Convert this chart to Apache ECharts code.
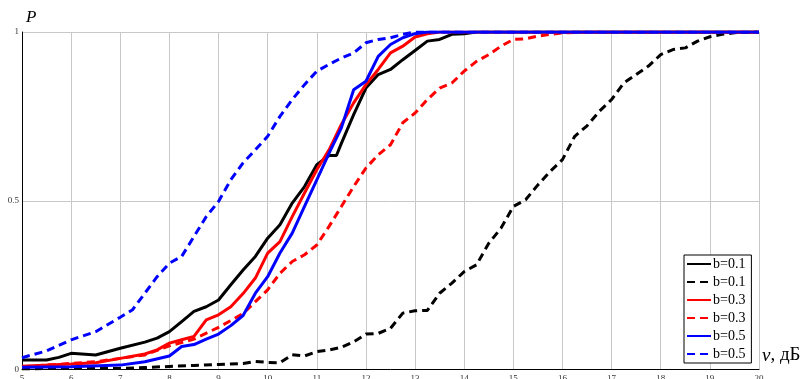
<!DOCTYPE html>
<html>
<head>
<meta charset="utf-8">
<script src="https://cdn.jsdelivr.net/npm/echarts@6/dist/echarts.min.js"></script>
<style>
  html, body { margin: 0; padding: 0; background: #fff; }
  #chart { width: 810px; height: 379px; }
</style>
</head>
<body>
<div id="chart"></div>
<script>
// Detection probability P versus signal-to-noise ratio ν (dB)
const xTicks = [5, 6, 7, 8, 9, 10, 11, 12, 13, 14, 15, 16, 17, 18, 19, 20];
const yTicks = [0, 0.5, 1];

// b = 0.1, solid
const nuB01s = [5, 5.5, 5.75, 6, 6.5, 7, 7.5, 7.75, 8, 8.25, 8.5, 8.75, 9, 9.25, 9.5, 9.75, 10, 10.25, 10.5, 10.75, 11, 11.25, 11.4, 11.5, 11.75, 12, 12.25, 12.5, 12.75, 13, 13.25, 13.5, 13.75, 14, 14.25, 20];
const pB01s  = [0.028, 0.028, 0.036, 0.048, 0.043, 0.063, 0.081, 0.093, 0.112, 0.142, 0.172, 0.186, 0.206, 0.251, 0.295, 0.335, 0.389, 0.429, 0.493, 0.542, 0.607, 0.634, 0.634, 0.67, 0.755, 0.834, 0.874, 0.889, 0.918, 0.945, 0.973, 0.978, 0.993, 0.995, 1, 1];

// b = 0.1, dashed
const nuB01d = [5, 6, 7, 7.5, 8, 8.5, 9, 9.5, 9.75, 10, 10.25, 10.5, 10.75, 11, 11.25, 11.5, 11.75, 12, 12.25, 12.5, 12.75, 13, 13.25, 13.5, 13.75, 14, 14.25, 14.5, 14.75, 15, 15.25, 15.5, 15.75, 16, 16.25, 16.5, 16.75, 17, 17.25, 17.5, 17.75, 18, 18.25, 18.5, 18.75, 19, 19.25, 19.5, 20];
const pB01d  = [0.002, 0.004, 0.003, 0.006, 0.009, 0.012, 0.015, 0.018, 0.024, 0.021, 0.02, 0.044, 0.04, 0.053, 0.058, 0.066, 0.082, 0.105, 0.107, 0.122, 0.167, 0.174, 0.175, 0.226, 0.256, 0.29, 0.31, 0.374, 0.419, 0.483, 0.503, 0.547, 0.587, 0.622, 0.691, 0.722, 0.765, 0.8, 0.849, 0.874, 0.899, 0.933, 0.948, 0.953, 0.973, 0.986, 0.993, 0.998, 1];

// b = 0.3, solid
const nuB03s = [5, 6, 6.5, 7, 7.5, 7.75, 8, 8.25, 8.5, 8.75, 9, 9.25, 9.5, 9.75, 10, 10.25, 10.5, 10.75, 11, 11.25, 11.5, 11.75, 12, 12.25, 12.5, 12.75, 13, 13.25, 13.5, 20];
const pB03s  = [0.01, 0.016, 0.02, 0.033, 0.046, 0.058, 0.078, 0.088, 0.098, 0.147, 0.162, 0.186, 0.225, 0.271, 0.345, 0.379, 0.453, 0.523, 0.592, 0.651, 0.726, 0.79, 0.844, 0.889, 0.938, 0.958, 0.985, 0.995, 1, 1];

// b = 0.3, dashed
const nuB03d = [5, 6, 6.5, 7, 7.5, 8, 8.5, 9, 9.25, 9.5, 9.75, 10, 10.25, 10.5, 10.75, 11, 11.25, 11.5, 11.75, 12, 12.25, 12.5, 12.75, 13, 13.25, 13.5, 13.75, 14, 14.25, 14.5, 14.75, 15, 15.25, 15.5, 15.75, 16, 16.5, 20];
const pB03d  = [0.008, 0.018, 0.023, 0.033, 0.043, 0.07, 0.09, 0.125, 0.145, 0.166, 0.201, 0.236, 0.285, 0.32, 0.34, 0.369, 0.424, 0.483, 0.542, 0.597, 0.636, 0.666, 0.731, 0.76, 0.8, 0.834, 0.849, 0.884, 0.913, 0.933, 0.958, 0.978, 0.98, 0.988, 0.993, 0.997, 1, 1];

// b = 0.5, solid
const nuB05s = [5, 6, 7, 7.5, 8, 8.25, 8.5, 8.75, 9, 9.25, 9.5, 9.75, 10, 10.25, 10.5, 10.75, 11, 11.25, 11.5, 11.75, 12, 12.25, 12.5, 12.75, 13, 13.25, 20];
const pB05s  = [0.007, 0.008, 0.013, 0.023, 0.04, 0.068, 0.074, 0.09, 0.105, 0.13, 0.16, 0.226, 0.275, 0.345, 0.404, 0.483, 0.562, 0.641, 0.716, 0.829, 0.854, 0.928, 0.963, 0.983, 0.995, 1, 1];

// b = 0.5, dashed
const nuB05d = [5, 5.5, 6, 6.5, 7, 7.25, 7.5, 7.75, 8, 8.25, 8.5, 8.75, 9, 9.25, 9.5, 9.75, 10, 10.25, 10.5, 10.75, 11, 11.25, 11.5, 11.75, 12, 12.25, 12.5, 12.75, 13, 20];
const pB05d  = [0.035, 0.055, 0.088, 0.112, 0.155, 0.177, 0.226, 0.275, 0.315, 0.335, 0.394, 0.453, 0.498, 0.562, 0.612, 0.651, 0.691, 0.75, 0.8, 0.844, 0.884, 0.904, 0.923, 0.938, 0.968, 0.978, 0.983, 0.993, 1, 1];

const legendLabels = ['b=0.1', 'b=0.1', 'b=0.3', 'b=0.3', 'b=0.5', 'b=0.5'];
const seriesIds = ['b01s', 'b01d', 'b03s', 'b03d', 'b05s', 'b05d'];

const serif = 'Liberation Serif, Times New Roman, serif';
const pairs = (xs, ys) => xs.map((x, i) => [x, ys[i]]);

const specs = [
  { id: 'b01s', data: pairs(nuB01s, pB01s), color: '#000000', dashed: false },
  { id: 'b01d', data: pairs(nuB01d, pB01d), color: '#000000', dashed: true },
  { id: 'b03s', data: pairs(nuB03s, pB03s), color: '#ff0000', dashed: false },
  { id: 'b03d', data: pairs(nuB03d, pB03d), color: '#ff0000', dashed: true },
  { id: 'b05s', data: pairs(nuB05s, pB05s), color: '#0000ff', dashed: false },
  { id: 'b05d', data: pairs(nuB05d, pB05d), color: '#0000ff', dashed: true }
];

const chart = echarts.init(document.getElementById('chart'), null, { renderer: 'canvas' });

chart.setOption({
  animation: false,
  backgroundColor: '#ffffff',
  grid: { left: 22, right: 51, top: 32, bottom: 9.5, containLabel: false, outerBoundsMode: 'none' },
  xAxis: {
    type: 'value', min: xTicks[0], max: xTicks[xTicks.length - 1], interval: 1,
    axisLine: { show: true, lineStyle: { color: '#000', width: 1 } },
    axisTick: { show: false },
    splitLine: { show: true, lineStyle: { color: '#c8c8c8', width: 1 } },
    axisLabel: { fontFamily: serif, fontSize: 9, color: '#333', margin: 5 }
  },
  yAxis: {
    type: 'value', min: yTicks[0], max: yTicks[yTicks.length - 1], interval: 0.5,
    axisLine: { show: true, lineStyle: { color: '#000', width: 1 } },
    axisTick: { show: false },
    splitLine: { show: true, lineStyle: { color: '#c8c8c8', width: 1 } },
    axisLabel: { fontFamily: serif, fontSize: 9, color: '#333', margin: 3 }
  },
  legend: {
    orient: 'vertical', left: 684, top: 255,
    itemWidth: 24, itemHeight: 14, itemGap: 4,
    padding: [2, 6, 2, 2],
    borderColor: '#000', borderWidth: 1, borderRadius: 0,
    backgroundColor: '#ffffff',
    selectedMode: false,
    itemStyle: { opacity: 0 },
    data: seriesIds,
    formatter: name => legendLabels[seriesIds.indexOf(name)],
    textStyle: { fontFamily: serif, fontSize: 14, color: '#000', padding: [0, 0, 0, -3] }
  },
  graphic: [
    { type: 'text', left: 26, top: 9,
      style: { text: 'P', font: 'italic 17px ' + serif, fill: '#000' } },
    { type: 'text', left: 762, top: 346,
      style: { text: '{i|ν}, дБ', rich: { i: { font: 'italic 19px ' + serif } }, font: '19px ' + serif, fill: '#000' } }
  ],
  series: specs.map(s => ({
    name: s.id,
    type: 'line',
    data: s.data,
    symbol: 'none',
    smooth: false,
    color: s.color,
    lineStyle: { color: s.color, width: 3, type: s.dashed ? [8, 5] : 'solid', cap: 'butt' }
  }))
});
</script>
</body>
</html>
